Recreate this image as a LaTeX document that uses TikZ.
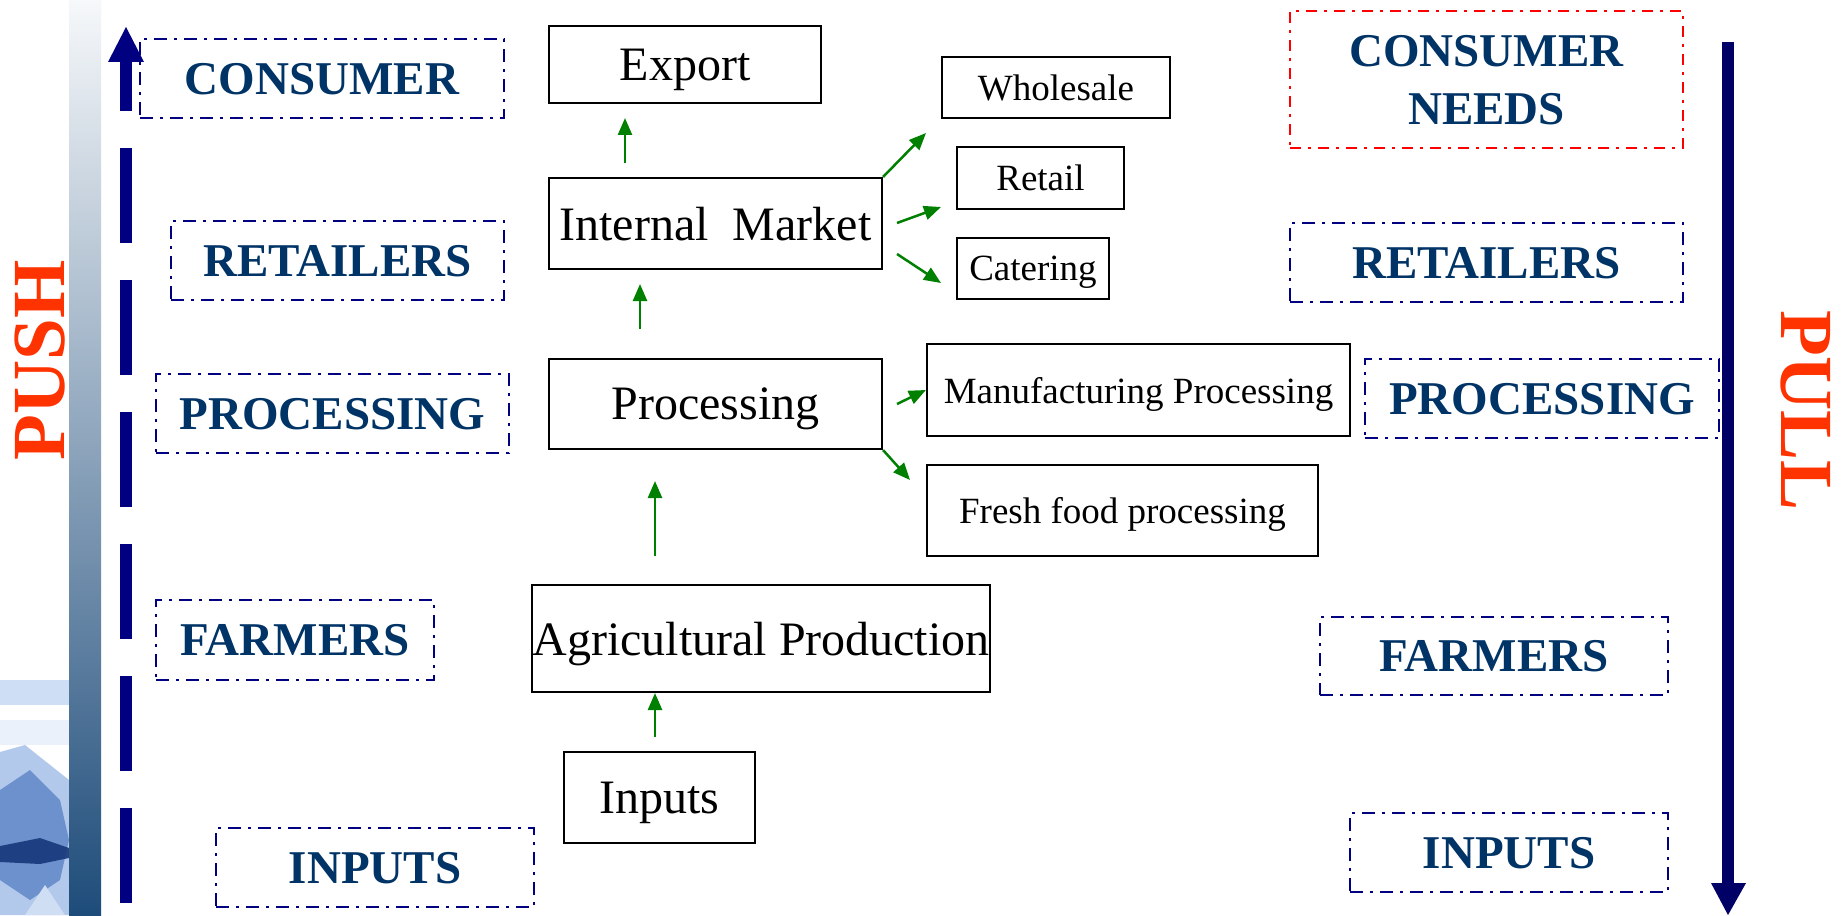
\documentclass[tikz,border=0pt]{standalone}
\usepackage{fontspec}
\setmainfont{Liberation Serif}
\usetikzlibrary{arrows.meta}
\definecolor{navy}{RGB}{0,0,128}
\definecolor{darknavy}{RGB}{0,0,102}
\definecolor{lbltext}{RGB}{0,51,102}
\definecolor{pushred}{RGB}{255,51,0}
\definecolor{arrgreen}{RGB}{0,128,0}
\definecolor{bartop}{RGB}{246,248,250}
\definecolor{barmid}{RGB}{146,165,188}
\definecolor{barbot}{RGB}{30,76,122}
\definecolor{decoA}{RGB}{206,222,244}
\definecolor{decoB}{RGB}{234,241,251}
\definecolor{decoC}{RGB}{178,201,236}
\definecolor{decoD}{RGB}{98,136,200}
\definecolor{decoE}{RGB}{22,56,122}
\definecolor{decoF}{RGB}{208,222,244}
\begin{document}
\begin{tikzpicture}[x=1pt,y=-1pt,
  cbox/.style={draw=black, line width=2.2pt, inner sep=0pt, text depth=0pt,
    font=\fontsize{48}{58}\selectfont},
  sbox/.style={cbox, font=\fontsize{37}{44}\selectfont},
  lbl/.style={draw=navy, line width=2.5pt, dash pattern=on 13pt off 7pt on 3pt off 7pt,
    inner sep=0pt, text depth=0pt, text=lbltext, font=\fontsize{47}{58}\selectfont\bfseries},
  redlbl/.style={lbl, draw=red, dash pattern=on 11pt off 7pt on 3pt off 7pt},
  garrow/.style={draw=arrgreen, line width=2.5pt, -{Triangle[length=17pt,width=14pt]}},
  sidetext/.style={text=pushred, inner sep=0pt, text depth=0pt, font=\fontsize{75}{80}\selectfont\bfseries}]
\useasboundingbox (0,0) rectangle (1846,915);
\fill[white] (0,0) rectangle (1846,915);

% bottom-left decoration
\fill[decoA] (0,680) rectangle (69,705);
\fill[decoB] (0,720) rectangle (69,745);
\fill[decoC] (0,752) -- (25,745) -- (69,780) -- (69,915) -- (0,915) -- cycle;
\fill[decoD, fill opacity=0.85] (0,790) -- (30,770) -- (60,800) -- (69,840) -- (60,880) -- (30,900) -- (0,880) -- cycle;
\fill[decoE, fill opacity=0.9] (0,846) -- (40,838) -- (69,848) -- (69,858) -- (40,864) -- (0,862) -- cycle;
\fill[decoF] (25,915) -- (45,885) -- (65,915) -- cycle;

% gradient bar
\shade[top color=bartop, middle color=barmid, bottom color=barbot] (69,0) rectangle (101,915);

% side texts
\node[sidetext, rotate=90] (push) at (40,360) {PUSH};
\node[sidetext, rotate=-90] (pull) at (1806,411) {PULL};

% left dashed push arrow
\coordinate (pushbot) at (126,903);
\coordinate (pushtop) at (126,62);
\draw[navy, line width=12pt, dash pattern=on 95pt off 37pt] (pushbot) -- (pushtop);
\fill[navy] (108,62) -- (144,62) -- (126,27) -- cycle;

% right pull arrow
\coordinate (pulltop) at (1728,42);
\coordinate (pullbot) at (1728,884);
\draw[darknavy, line width=12pt] (pulltop) -- (pullbot);
\fill[darknavy] (1711,883) -- (1746,883) -- (1728,915) -- cycle;

% left labels
\node[lbl, minimum width=364, minimum height=79] (lcons) at (322,78.5) {CONSUMER};
\node[lbl, minimum width=333, minimum height=79] (lret) at (337.5,260.5) {RETAILERS};
\node[lbl, minimum width=353, minimum height=79] (lproc) at (332.5,413.5) {PROCESSING};
\node[lbl, minimum width=278, minimum height=80] (lfarm) at (295,640) {FARMERS};
\node[lbl, minimum width=318, minimum height=79] (linp) at (375,867.5) {INPUTS};

% right labels
\node[redlbl, minimum width=393, minimum height=137, align=center] (rcons) at (1486.5,79.5) {CONSUMER\\NEEDS};
\node[lbl, minimum width=393, minimum height=79] (rret) at (1486.5,262.5) {RETAILERS};
\node[lbl, minimum width=354, minimum height=79] (rproc) at (1542,398.5) {PROCESSING};
\node[lbl, minimum width=348, minimum height=78] (rfarm) at (1494,656) {FARMERS};
\node[lbl, minimum width=318, minimum height=79] (rinp) at (1509,852.5) {INPUTS};

% central chain
\node[cbox, minimum width=272, minimum height=77] (export) at (685,64.5) {Export};
\node[cbox, minimum width=333, minimum height=91] (intm) at (715.5,223.5) {Internal~~Market};
\node[cbox, minimum width=333, minimum height=90] (proc) at (715.5,404) {Processing};
\node[cbox, minimum width=454, minimum height=107] (agri) at (761,638.5) {Agricultural Production};
\node[cbox, minimum width=191, minimum height=91] (inp) at (659.5,797.5) {Inputs};

\node[sbox, minimum width=228, minimum height=61] (whole) at (1056,87.5) {Wholesale};
\node[sbox, minimum width=167, minimum height=62] (retail) at (1040.5,178) {Retail};
\node[sbox, minimum width=152, minimum height=61] (cater) at (1033,268.5) {Catering};
\node[sbox, minimum width=423, minimum height=92] (manuf) at (1138.5,390) {Manufacturing Processing};
\node[sbox, minimum width=391, minimum height=91] (fresh) at (1122.5,510.5) {Fresh food processing};

% arrow end coordinates
\coordinate (a1s) at (625,163);  \coordinate (a1e) at (625,118);
\coordinate (a2s) at (640,329);  \coordinate (a2e) at (640,284);
\coordinate (a3s) at (655,556);  \coordinate (a3e) at (655,481);
\coordinate (a4s) at (655,737);  \coordinate (a4e) at (655,693);
\coordinate (a5e) at (926,133);
\coordinate (a6s) at (897,223);  \coordinate (a6e) at (941,207);
\coordinate (a7s) at (897,254);  \coordinate (a7e) at (941,283);
\coordinate (a8s) at (897,404);
\coordinate (a9e) at (910,480);

\draw[garrow] (a1s) -- (a1e);
\draw[garrow] (a2s) -- (a2e);
\draw[garrow] (a3s) -- (a3e);
\draw[garrow] (a4s) -- (a4e);
\draw[garrow] (intm.north east) -- (a5e);
\draw[garrow] (a6s) -- (a6e);
\draw[garrow] (a7s) -- (a7e);
\draw[garrow] (a8s) -- (manuf.west);
\draw[garrow] (proc.south east) -- (a9e);
\end{tikzpicture}
\end{document}
